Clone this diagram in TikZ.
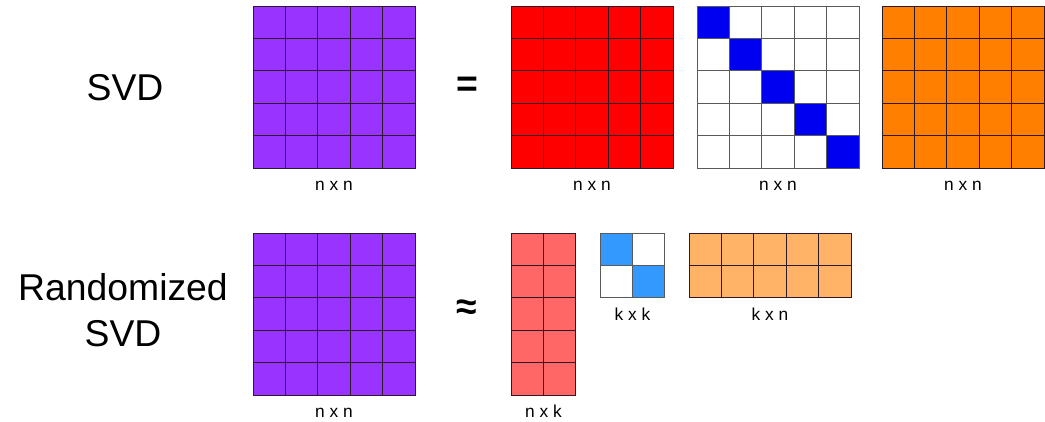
\documentclass[tikz,border=0pt]{standalone}
\usepackage{fontspec}
\setmainfont{Liberation Sans}
\usepackage{tikz}
\usetikzlibrary{positioning,calc}
\definecolor{PurpFill}{RGB}{153,51,255}
\definecolor{RedFill}{RGB}{255,0,0}
\definecolor{DiagBlue}{RGB}{0,0,240}
\definecolor{OrngFill}{RGB}{255,128,0}
\definecolor{RedLite}{RGB}{255,102,102}
\definecolor{BlueLite}{RGB}{51,153,255}
\definecolor{OrngLite}{RGB}{255,179,102}
\definecolor{GridLine}{RGB}{45,25,40}
\definecolor{GridGray}{RGB}{90,90,90}
\tikzset{
  mat/.style={
    rectangle, inner sep=0pt, outer sep=0pt},
  mat_sq/.style={
    mat, minimum width=121.5pt, minimum height=121.5pt},
  grid_ln/.style={
    draw=GridLine, line width=0.75pt, line cap=rect},
  grid_gr/.style={
    draw=GridGray, line width=0.75pt, line cap=rect},
  dim_lbl/.style={
    font=\fontsize{13}{15}\selectfont,
    inner sep=0pt, text height=9.5pt, text depth=0pt},
  big_lbl/.style={
    font=\fontsize{28}{34.5}\selectfont, align=center},
  op_lbl/.style={
    font=\fontsize{28}{30}\selectfont\bfseries},
}
% cols x rows grid lines over a matrix node
\newcommand{\matgrid}[4]{%
  \foreach \i in {0,...,#2}
    \draw[#4] ($(#1.north west)!\i/#2!(#1.north east)$) -- ($(#1.south west)!\i/#2!(#1.south east)$);
  \foreach \j in {0,...,#3}
    \draw[#4] ($(#1.north west)!\j/#3!(#1.south west)$) -- ($(#1.north east)!\j/#3!(#1.south east)$);
}

\begin{document}
\begin{tikzpicture}[x=0.75pt,y=-0.75pt]
\useasboundingbox (0,0) rectangle (1045,421);

% full SVD
\node[big_lbl] (tSvd) at (125,88) {SVD};
\node[mat_sq, fill=PurpFill] (mA) at (334,87) {};
\node[op_lbl] (opEq) at (467,87) {=};
\node[mat_sq, fill=RedFill] (mU) at (592,87) {};
\node[mat_sq, fill=white] (mS) at (778,87) {};
\node[mat_sq, fill=OrngFill] (mV) at (963,87) {};
\foreach \i in {0,...,4}
  \fill[DiagBlue] ($(mS.north west)!\i/5!(mS.south east)$) rectangle ($(mS.north west)!\i/5+0.2!(mS.south east)$);
\matgrid{mA}{5}{5}{grid_ln}
\matgrid{mU}{5}{5}{grid_ln}
\matgrid{mS}{5}{5}{grid_gr}
\matgrid{mV}{5}{5}{grid_ln}
\node[dim_lbl, below=7pt of mA] (lA) {n x n};
\node[dim_lbl, below=7pt of mU] (lU) {n x n};
\node[dim_lbl, below=7pt of mS] (lS) {n x n};
\node[dim_lbl, below=7pt of mV] (lV) {n x n};

% randomized SVD
\node[big_lbl] (tRnd) at (123,310) {Randomized\\SVD};
\node[mat_sq, fill=PurpFill] (mB) at (334,314) {};
\node[op_lbl] (opAp) at (467,310) {≈};
\node[mat, fill=RedLite, minimum width=48.6pt, minimum height=121.5pt] (mUk) at (543.5,314) {};
\node[mat, fill=white, minimum width=48.6pt, minimum height=48.6pt] (mSk) at (632.5,265.5) {};
\node[mat, fill=OrngLite, minimum width=121.5pt, minimum height=48.6pt] (mVk) at (770,265.5) {};
\foreach \i in {0,1}
  \fill[BlueLite] ($(mSk.north west)!\i/2!(mSk.south east)$) rectangle ($(mSk.north west)!\i/2+0.5!(mSk.south east)$);
\matgrid{mB}{5}{5}{grid_ln}
\matgrid{mUk}{2}{5}{grid_ln}
\matgrid{mSk}{2}{2}{grid_gr}
\matgrid{mVk}{5}{2}{grid_ln}
\node[dim_lbl, below=7pt of mB] (lB) {n x n};
\node[dim_lbl, below=7pt of mUk] (lUk) {n x k};
\node[dim_lbl, below=7pt of mSk] (lSk) {k x k};
\node[dim_lbl, below=7pt of mVk] (lVk) {k x n};
\end{tikzpicture}
\end{document}
